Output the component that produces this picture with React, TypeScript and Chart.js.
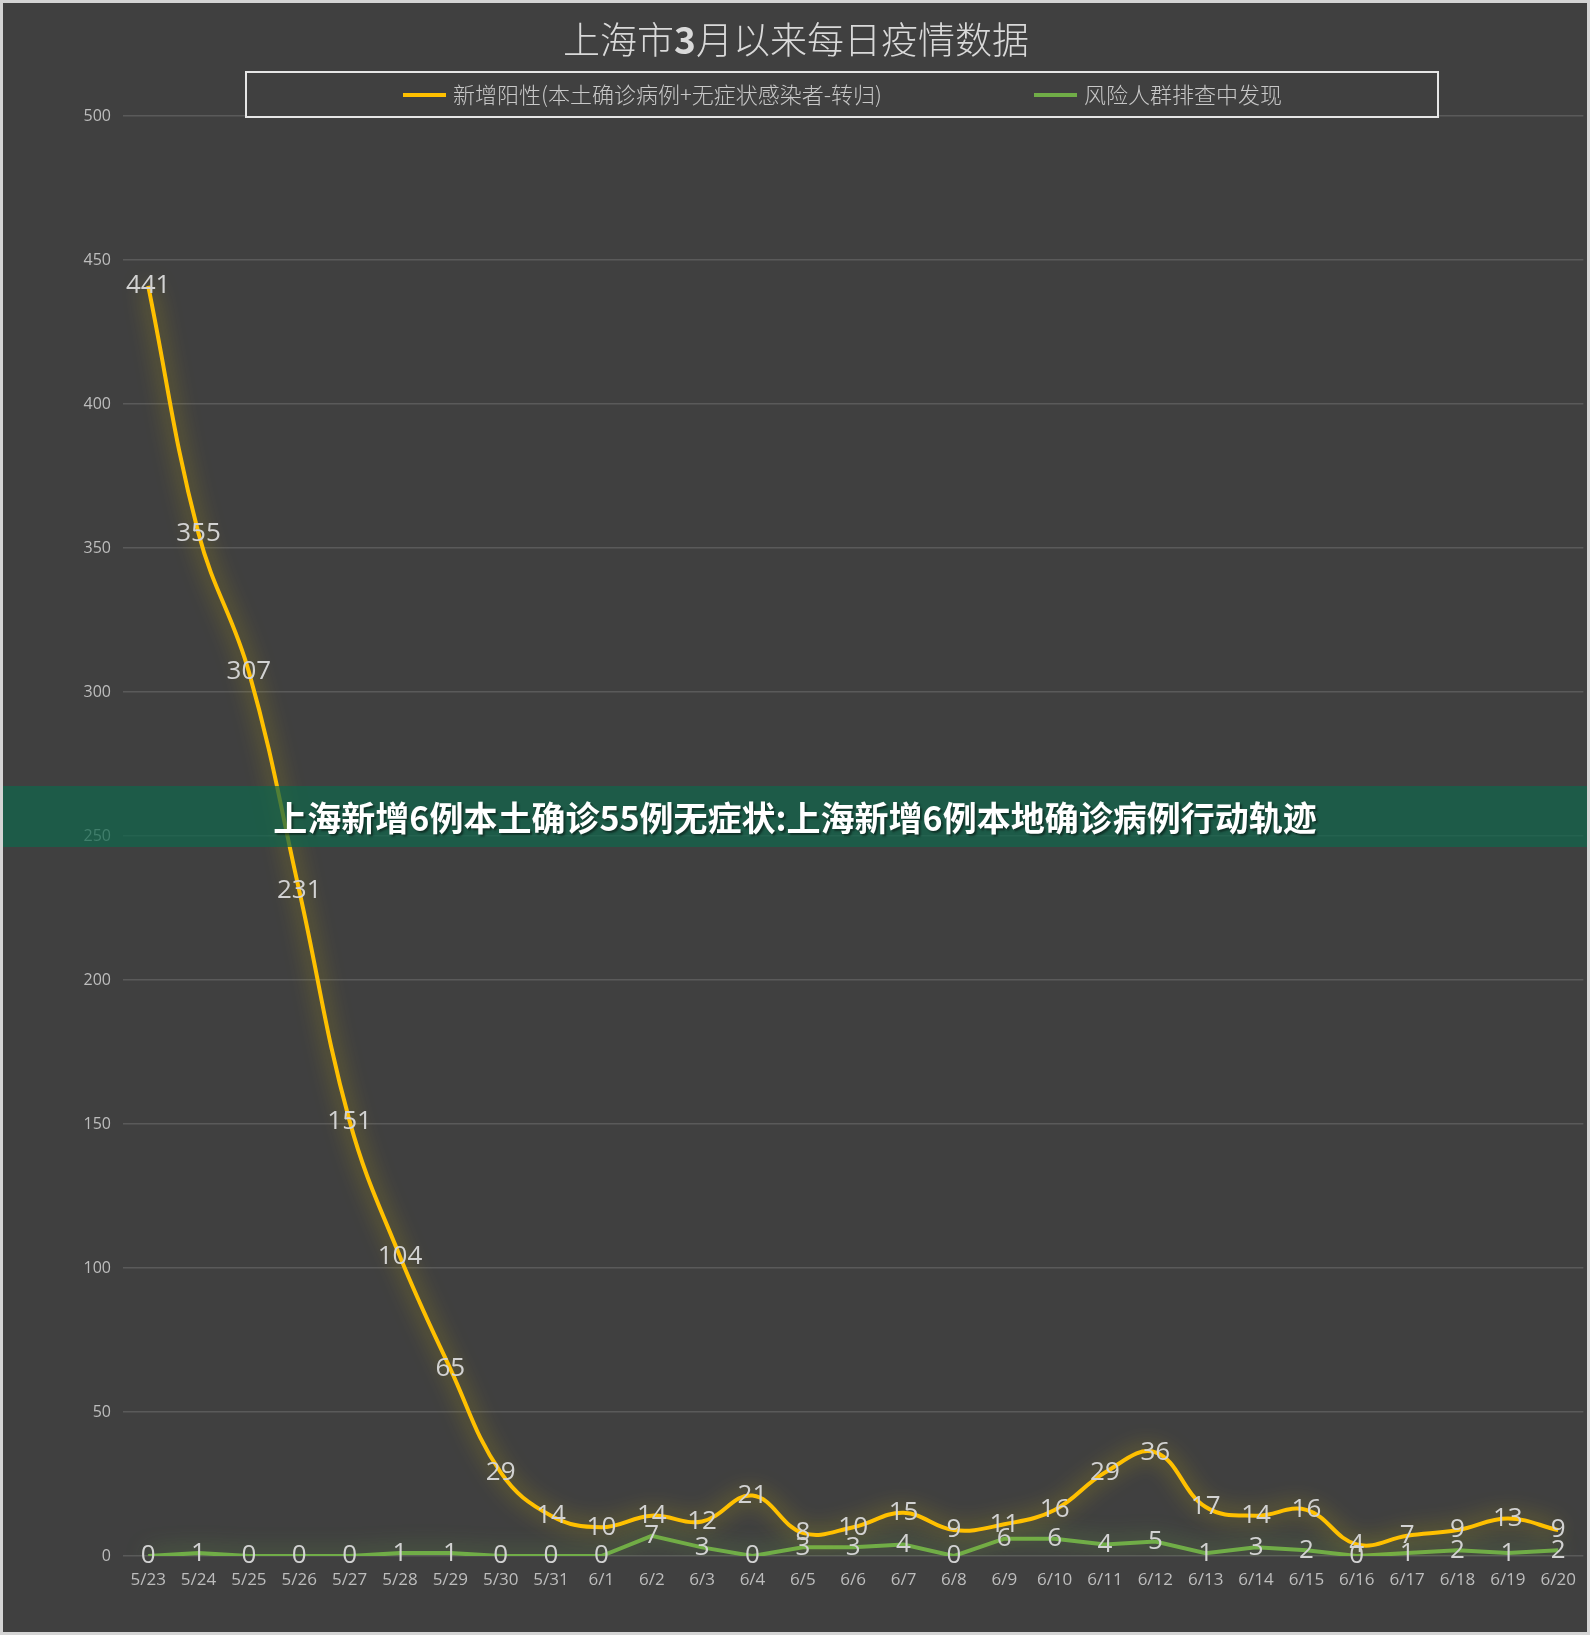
import React, { useEffect, useRef } from "react";
import { Chart, registerables } from "chart.js";

Chart.register(...registerables);

const categories = [
  "5/23", "5/24", "5/25", "5/26", "5/27", "5/28", "5/29", "5/30", "5/31",
  "6/1", "6/2", "6/3", "6/4", "6/5", "6/6", "6/7", "6/8", "6/9", "6/10",
  "6/11", "6/12", "6/13", "6/14", "6/15", "6/16", "6/17", "6/18", "6/19", "6/20",
];

const newPositive = [
  441, 355, 307, 231, 151, 104, 65, 29, 14,
  10, 14, 12, 21, 8, 10, 15, 9, 11, 16,
  29, 36, 17, 14, 16, 4, 7, 9, 13, 9,
];

const riskScreening = [
  0, 1, 0, 0, 0, 1, 1, 0, 0,
  0, 7, 3, 0, 3, 3, 4, 0, 6, 6,
  4, 5, 1, 3, 2, 0, 1, 2, 1, 2,
];

const seriesNames = ["新增阳性(本土确诊病例+无症状感染者-转归)", "风险人群排查中发现"];
const titleParts = ["上海市", "3", "月以来每日疫情数据"];
const bannerText = "上海新增6例本土确诊55例无症状:上海新增6例本地确诊病例行动轨迹";

const W = 1590;
const H = 1635;
const BG = "#404040";
const YELLOW = "#ffc000";
const GREEN = "#70ad47";
const CJK = '"Noto Sans CJK SC", "Noto Sans", sans-serif';
const NUM = '"Open Sans", "Noto Sans", sans-serif';

const bgPlugin = {
  id: "bgPlugin",
  beforeDraw(chart: any) {
    const ctx = chart.ctx;
    ctx.save();
    ctx.fillStyle = BG;
    ctx.fillRect(0, 0, W, H);
    ctx.restore();
  },
};

const glowPlugin = {
  id: "glowPlugin",
  beforeDatasetDraw(chart: any, args: any) {
    const ds = chart.data.datasets[args.index];
    const ctx = chart.ctx;
    ctx.save();
    ctx.shadowColor = ds.glowColor;
    ctx.shadowBlur = 22;
  },
  afterDatasetDraw(chart: any) {
    chart.ctx.restore();
  },
};

const labelPlugin = {
  id: "labelPlugin",
  afterDatasetsDraw(chart: any) {
    const ctx = chart.ctx;
    ctx.save();
    ctx.font = `26px ${NUM}`;
    ctx.fillStyle = "#d2d2d2";
    ctx.textAlign = "center";
    ctx.textBaseline = "middle";
    chart.data.datasets.forEach((ds: any, i: number) => {
      const meta = chart.getDatasetMeta(i);
      meta.data.forEach((pt: any, j: number) => {
        ctx.fillText(String(ds.data[j]), pt.x, pt.y);
      });
    });
    ctx.restore();
  },
};

const headerPlugin = {
  id: "headerPlugin",
  afterDraw(chart: any) {
    const ctx = chart.ctx;
    ctx.save();
    // title
    ctx.textBaseline = "middle";
    ctx.fillStyle = "#d9d9d9";
    const fonts = [`300 37px ${CJK}`, `bold 37px ${CJK}`, `300 37px ${CJK}`];
    let total = 0;
    const widths = titleParts.map((t, i) => {
      ctx.font = fonts[i];
      const w = ctx.measureText(t).width;
      total += w;
      return w;
    });
    let x = 796 - total / 2;
    ctx.textAlign = "left";
    titleParts.forEach((t, i) => {
      ctx.font = fonts[i];
      ctx.fillText(t, x, 40);
      x += widths[i];
    });
    // legend box
    ctx.fillStyle = BG;
    ctx.fillRect(246, 72, 1192, 45);
    ctx.strokeStyle = "#e6e6e6";
    ctx.lineWidth = 2;
    ctx.strokeRect(246, 72, 1192, 45);
    const items = [
      { x: 403, color: YELLOW, text: seriesNames[0] },
      { x: 1034, color: GREEN, text: seriesNames[1] },
    ];
    ctx.font = `300 22px ${CJK}`;
    items.forEach((it) => {
      ctx.strokeStyle = it.color;
      ctx.lineWidth = 4;
      ctx.beginPath();
      ctx.moveTo(it.x, 95);
      ctx.lineTo(it.x + 43, 95);
      ctx.stroke();
      ctx.fillStyle = "#c8c8c8";
      ctx.fillText(it.text, it.x + 50, 95);
    });
    // outer frame
    ctx.strokeStyle = "#d4d4d4";
    ctx.lineWidth = 3;
    ctx.strokeRect(1.5, 1.5, W - 3, H - 3);
    ctx.restore();
  },
};

export default function App() {
  const ref = useRef<HTMLCanvasElement | null>(null);

  useEffect(() => {
    document.body.style.margin = "0";
    if (!ref.current) return;
    const chart = new Chart(ref.current, {
      type: "line",
      data: {
        labels: categories,
        datasets: [
          {
            label: seriesNames[0],
            data: newPositive,
            borderColor: YELLOW,
            borderWidth: 4,
            pointRadius: 0,
            tension: 0.4,
            fill: false,
            glowColor: "rgba(220,195,0,0.75)",
          } as any,
          {
            label: seriesNames[1],
            data: riskScreening,
            borderColor: GREEN,
            borderWidth: 4,
            pointRadius: 0,
            tension: 0,
            fill: false,
            glowColor: "rgba(112,173,71,0.8)",
          } as any,
        ],
      },
      options: {
        responsive: false,
        animation: false,
        devicePixelRatio: 1,
        layout: { padding: { top: 116, left: 0, right: 5, bottom: 0 } },
        plugins: {
          legend: { display: false },
          title: { display: false },
          tooltip: { enabled: false },
        },
        scales: {
          x: {
            offset: true,
            grid: { display: false, drawTicks: false },
            border: { display: false },
            ticks: {
              color: "#bdbdbd",
              font: { family: NUM, size: 17 },
              padding: 14,
              maxRotation: 0,
              autoSkip: false,
            },
            afterFit: (s: any) => {
              s.height = H - 1556;
            },
          },
          y: {
            min: 0,
            max: 500,
            grid: { color: "#5a5a5a", lineWidth: 1.5, drawTicks: false },
            border: { display: false },
            ticks: {
              stepSize: 50,
              color: "#bdbdbd",
              font: { family: NUM, size: 16 },
              padding: 12,
            },
            afterFit: (s: any) => {
              s.width = 123;
            },
          },
        },
      },
      plugins: [bgPlugin, glowPlugin, labelPlugin, headerPlugin],
    });
    return () => chart.destroy();
  }, []);

  return (
    <div style={{ position: "relative", width: W, height: H }}>
      <canvas ref={ref} width={W} height={H} style={{ display: "block", width: W, height: H }} />
      <div
        style={{
          position: "absolute",
          left: 3,
          top: 786,
          width: W - 6,
          height: 61,
          background: "rgba(15,101,75,0.72)",
          display: "flex",
          alignItems: "center",
          justifyContent: "center",
          color: "#ffffff",
          fontFamily: CJK,
          fontWeight: 700,
          fontSize: 34,
          textShadow: "2px 2px 2px rgba(0,0,0,0.45)",
          whiteSpace: "nowrap",
        }}
      >
        {bannerText}
      </div>
    </div>
  );
}
